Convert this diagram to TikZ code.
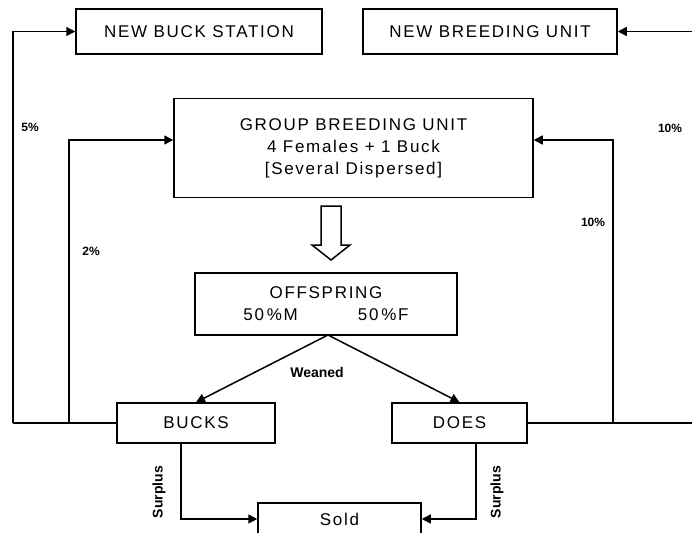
\documentclass[tikz,border=0pt]{standalone}
\usepackage{fontspec}
\setmainfont{Liberation Sans}
\usetikzlibrary{arrows.meta}

\begin{document}
\begin{tikzpicture}[
  >={Triangle[length=9pt,width=9pt]},
  x=1pt, y=-1pt,
  box/.style={draw=black, line width=1.5pt, inner sep=0pt, align=center,
              font=\fontsize{17}{22}\selectfont\addfontfeatures{LetterSpace=10}},
  link/.style={->, line width=1.5pt},
  wire/.style={line width=1.5pt},
  hollow/.style={draw=black, line width=1.5pt, fill=white, line join=miter},
  pct/.style={font=\bfseries\fontsize{12}{14}\selectfont},
  tag/.style={font=\bfseries\fontsize{14}{16}\selectfont},
]
\useasboundingbox (0,0) rectangle (692,532);

% ============================== boxes ==============================
\node[box, minimum width=246pt, minimum height=45pt] (nbs) at (199,31.5) {NEW BUCK STATION};
\node[box, minimum width=254pt, minimum height=45pt] (nbu) at (490,31.5) {NEW BREEDING UNIT};
\node[box, minimum width=359pt, minimum height=99pt] (gbu) at (353.5,148)
  {GROUP BREEDING UNIT\\4 Females + 1 Buck\\{}[Several Dispersed]};
\node[box, minimum width=262pt, minimum height=62pt] (off) at (326,304)
  {OFFSPRING\\50\,\%M\hspace{60pt}50\,\%F};
\node[box, minimum width=158pt, minimum height=40pt] (bucks) at (196,423) {BUCKS};
\node[box, minimum width=135pt, minimum height=40pt] (does) at (459.5,423) {DOES};
\node[box, minimum width=163pt, minimum height=32pt] (sold) at (339.5,519) {Sold};

% ============================== hollow arrow ==============================
\draw[hollow] (321,206) -- (341,206) -- (341,245) -- (350,245) -- (331,260)
  -- (312,245) -- (321,245) -- cycle;

% ============================== junctions ==============================
\coordinate (lo) at (13,423);
\coordinate (li) at (69,423);
\coordinate (ri) at (613,423);
\coordinate (ro) at (692,423);
\coordinate (rt) at (692,31.5);
\coordinate (wean) at (328,335);

% ============================== feedback loops ==============================
\draw[wire] (bucks.west) -- (lo);
\draw[link] (lo) |- (nbs.west);
\draw[link] (li) |- (gbu.west |- 0,140);
\draw[wire] (does.east) -- (ro);
\draw[link] (ri) |- (gbu.east |- 0,140);
\draw[link] (rt) -- (nbu.east);

% ============================== offspring split ==============================
\draw[link] (wean) -- (bucks.north);
\draw[link] (wean) -- (does.north);

% ============================== surplus ==============================
\draw[link] (bucks.south -| 181,0) |- (sold.west);
\draw[link] (does.south -| 476,0) |- (sold.east);

% ============================== labels ==============================
\node[pct] at (30,127) {5\%};
\node[pct] at (91,251) {2\%};
\node[pct] at (670,128) {10\%};
\node[pct] at (593,222) {10\%};
\node[tag] at (317,372) {Weaned};
\node[tag, rotate=90] at (159,492) {Surplus};
\node[tag, rotate=90] at (497,492) {Surplus};
\end{tikzpicture}
\end{document}
